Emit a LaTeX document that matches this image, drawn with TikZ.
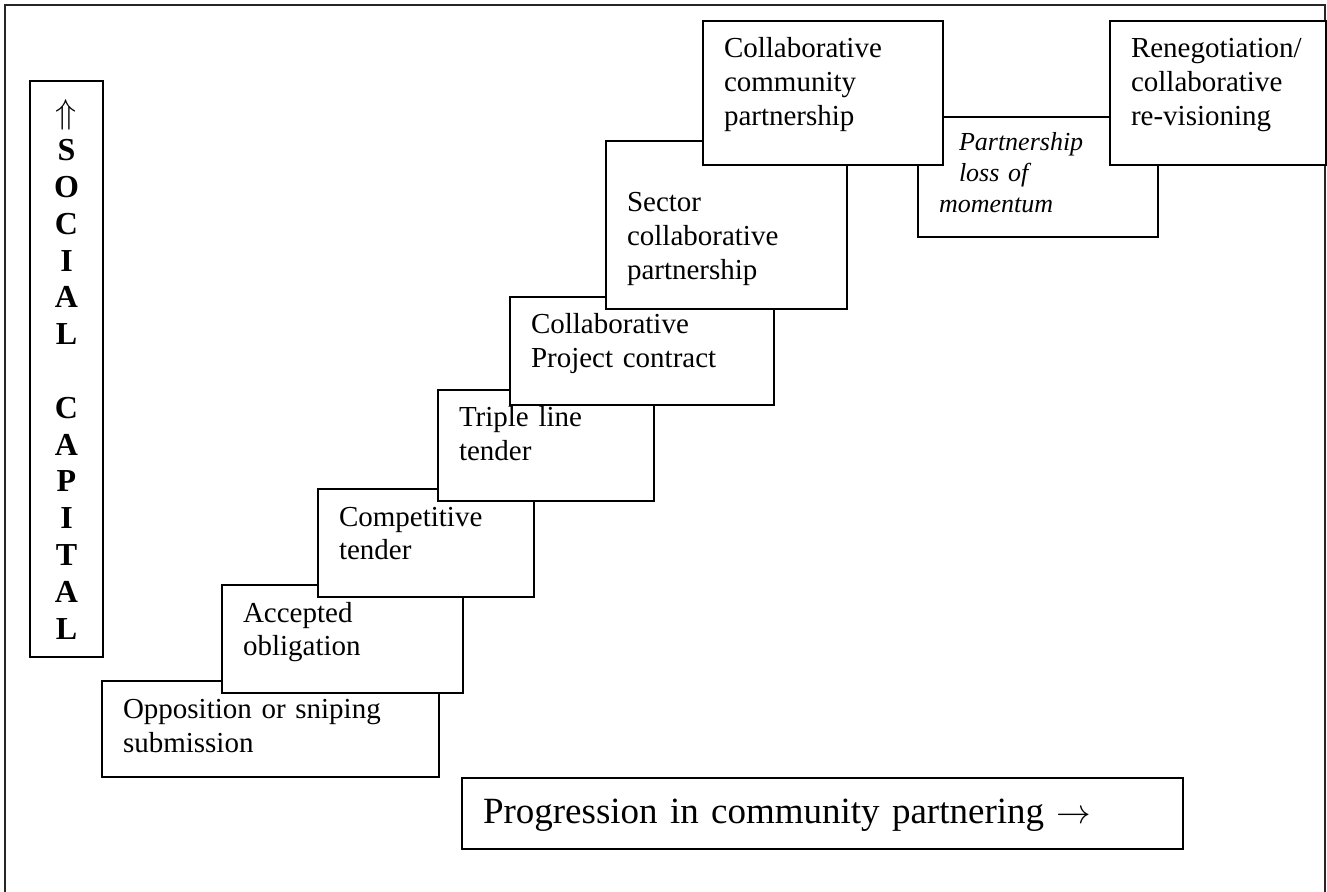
\documentclass[tikz,border=0pt]{standalone}
\usepackage{fontspec}
\setmainfont{Liberation Serif}
\usepackage{tikz}

\begin{document}
\begin{tikzpicture}[x=1pt, y=1pt,
        stepbox/.style={draw, fill=white, line width=1pt, anchor=north west, align=left,
            inner xsep=10.5pt, inner ysep=0pt, text height=18.5pt,
            font=\fontsize{14.5}{17}\selectfont}]
        \useasboundingbox (0,0) rectangle (663.5,-446);

        % Outer frame
        \draw[line width=1pt, black!85] (2.5,-460) -- (2.5,-2.5) -- (662.5,-2.5) -- (662.5,-460);

        % Vertical axis
        \node[stepbox, align=center, inner xsep=0pt, text width=36.5pt, text height=21.5pt, text depth=266.5pt,
            font=\bfseries\fontsize{16}{18.4}\selectfont] (social) at (14.5,-40)
            {$\Uparrow$\\S\\O\\C\\I\\A\\L\\~\\C\\A\\P\\I\\T\\A\\L};

        % Steps
        \node[stepbox, text width=147.5pt, text depth=29.5pt] (opp) at (50.5,-340) {Opposition or sniping\\submission};
        \node[stepbox, text width=99.5pt, text depth=35.5pt] (acc) at (110.5,-292) {Accepted\\obligation};
        \node[stepbox, text width=87pt, text depth=35.5pt] (comp) at (158.5,-244) {Competitive\\tender};
        \node[stepbox, text width=87pt, text depth=37pt] (triple) at (218.5,-194.5) {Triple line\\tender};
        \node[stepbox, text width=111pt, text depth=35.5pt] (proj) at (254.5,-148) {Collaborative\\Project contract};
        \node[stepbox, text width=99.5pt, text depth=65.5pt] (sector) at (302.5,-70) {\strut\\Sector\\collaborative\\partnership};
        \node[stepbox, text width=99pt, text height=17pt, text depth=43pt,
            font=\itshape\fontsize{13}{15.5}\selectfont] (loss) at (458.5,-58)
            {\hspace*{10pt}Partnership\\\hspace*{10pt}loss of\\momentum};
        \node[stepbox, text width=99pt, text depth=53.5pt] (comm) at (351,-10) {Collaborative\\community\\partnership};
        \node[stepbox, text width=87pt, text depth=53.5pt] (reneg) at (554.5,-10) {Renegotiation/\\collaborative\\re-visioning};

        % Horizontal axis
        \node[stepbox, text width=339.5pt, text height=22.85pt, text depth=12.65pt,
            font=\fontsize{18.5}{22}\selectfont] (prog) at (230.5,-388.5)
            {Progression in community partnering $\rightarrow$};

    \end{tikzpicture}
\end{document}
